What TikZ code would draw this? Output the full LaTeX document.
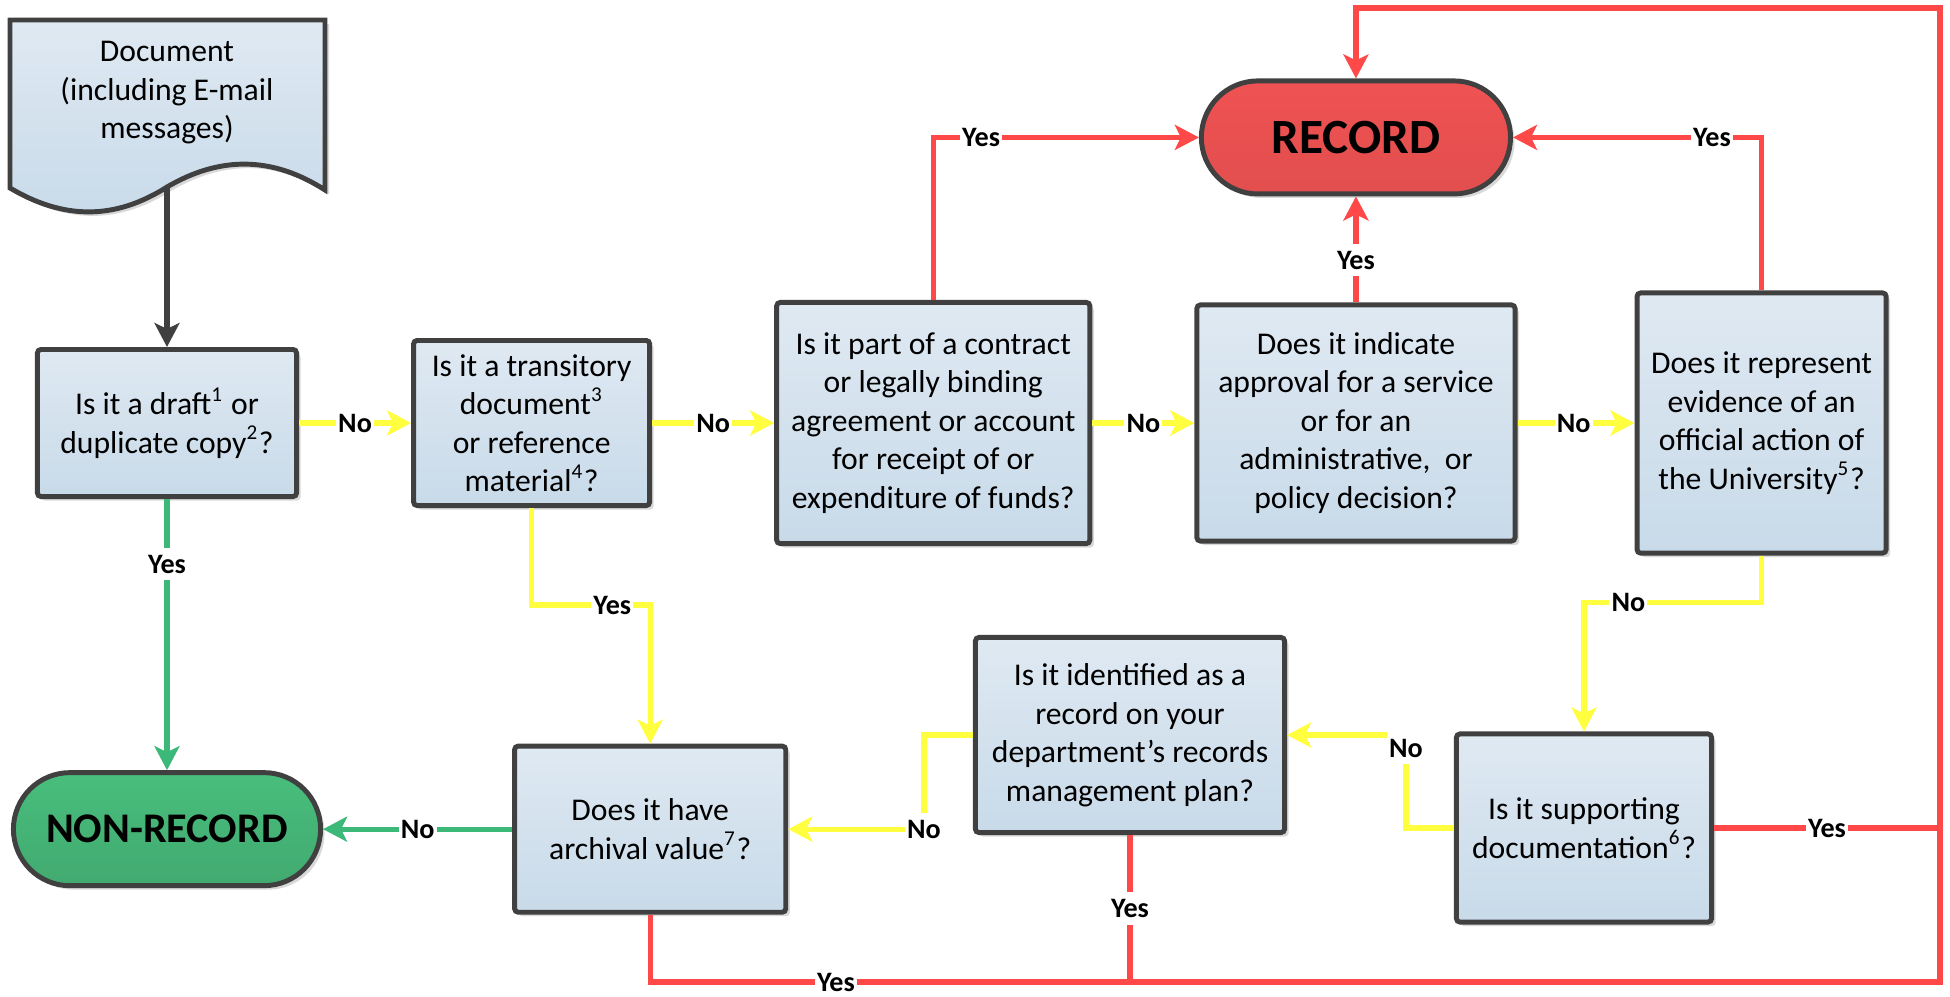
\documentclass[tikz,border=0pt]{standalone}
\usepackage{fontspec}
\setmainfont{Carlito}
\usetikzlibrary{arrows.meta,positioning,shadows}
\definecolor{boxtop}{RGB}{223,233,242}
\definecolor{boxbot}{RGB}{200,218,233}
\definecolor{edge}{RGB}{64,64,64}
\definecolor{recred}{RGB}{240,82,82}
\definecolor{recredbot}{RGB}{226,78,78}
\definecolor{nongreen}{RGB}{72,190,124}
\definecolor{nongreenbot}{RGB}{66,170,112}
\definecolor{linered}{RGB}{255,72,72}
\definecolor{linegreen}{RGB}{60,184,120}
\definecolor{lineyellow}{RGB}{255,255,64}

\begin{document}
\begin{tikzpicture}[
    x=0.01cm, y=-0.01cm,
    shadowed/.style={drop shadow={shadow xshift=0.04cm, shadow yshift=-0.04cm, fill=black!15, opacity=1}},
    qbox/.style={draw=edge, line width=1.4pt, rounded corners=1pt, top color=boxtop, bottom color=boxbot,
      align=center, inner sep=2pt, font=\fontsize{9}{10.95}\selectfont, shadowed},
    term/.style={draw=edge, line width=1.4pt, rounded corners=0.565cm, minimum height=1.13cm, shadowed},
    lbl/.style={fill=white, inner xsep=0.6pt, inner ysep=2pt, font=\fontsize{8}{9}\selectfont\bfseries},
    arr/.style={line width=1.5pt, -{Stealth[length=2.4mm, width=2.5mm, inset=0.6mm]}},
    yline/.style={arr, draw=lineyellow},
    rline/.style={arr, draw=linered},
    gline/.style={arr, draw=linegreen}
  ]
    \useasboundingbox (0,0) rectangle (1950,996);

    % document symbol
    \draw[draw=edge, line width=1.4pt, top color=boxtop, bottom color=boxbot, shadowed]
      (10,20) -- (325,20) -- (325,190)
      .. controls (272,156) and (220,156) .. (167,187)
      .. controls (115,220) and (64,220) .. (10,188) -- cycle;
    \node[align=center, font=\fontsize{9}{10.95}\selectfont] (doc) at (167,93) {Document\\(including E-mail\\messages)};
    \coordinate (docwave) at (167,187);

    % top row of questions
    \node[qbox, minimum width=2.59cm, minimum height=1.47cm] (draft) at (167,423)
      {Is it a draft\textsuperscript{1} or\\duplicate copy\textsuperscript{2}?};
    \node[qbox, minimum width=2.36cm, minimum height=1.65cm, right=1.12cm of draft] (trans)
      {Is it a transitory\\document\textsuperscript{3}\\or reference\\material\textsuperscript{4}?};
    \node[qbox, minimum width=3.13cm, minimum height=2.41cm, right=1.22cm of trans] (contract)
      {Is it part of a contract\\or legally binding\\agreement or account\\for receipt of or\\expenditure of funds?};
    \node[qbox, minimum width=3.18cm, minimum height=2.36cm, right=1.02cm of contract] (approval)
      {Does it indicate\\approval for a service\\or for an\\administrative,~ or\\policy decision?};
    \node[qbox, minimum width=2.49cm, minimum height=2.60cm, right=1.17cm of approval] (evidence)
      {Does it represent\\evidence of an\\official action of\\the University\textsuperscript{5}?};

    % terminals
    \node[term, minimum width=3.09cm, top color=recred, bottom color=recredbot,
      font=\fontsize{14}{16}\selectfont\bfseries, above=1.06cm of approval] (record) {RECORD};
    \node[term, minimum width=3.07cm, top color=nongreen, bottom color=nongreenbot,
      font=\fontsize{12}{14}\selectfont\bfseries, below=2.71cm of draft] (nonrec) {NON-RECORD};

    % bottom row of questions
    \node[qbox, minimum width=2.71cm, minimum height=1.66cm, right=1.89cm of nonrec] (archival)
      {Does it have\\archival value\textsuperscript{7}?};
    \node[qbox, minimum width=3.09cm, minimum height=1.95cm] (identified) at (1130,735)
      {Is it identified as a\\record on your\\department’s records\\management plan?};
    \node[qbox, minimum width=2.55cm, minimum height=1.88cm] (supporting) at (1584,828)
      {Is it supporting\\documentation\textsuperscript{6}?};

    % connectors
    \draw[arr, draw=edge] (docwave) -- (draft);
    \draw[yline] (draft) -- node[lbl]{No} (trans);
    \draw[yline] (trans) -- node[lbl]{No} (contract);
    \draw[yline] (contract) -- node[lbl]{No} (approval);
    \draw[yline] (approval) -- node[lbl, pos=0.48]{No} (evidence);
    \draw[gline] (draft) -- node[lbl, pos=0.24]{Yes} (nonrec);
    \draw[yline] (trans.south) -- ++(0,97) -| node[lbl, pos=0.34]{Yes} (archival.north);
    \draw[rline] (contract.north) |- node[lbl, pos=0.59]{Yes} (record.west);
    \draw[rline] (approval) -- node[lbl, pos=0.4]{Yes} (record);
    \draw[rline] (evidence.north) |- node[lbl, pos=0.6]{Yes} (record.east);
    \draw[yline] (evidence.south) -- ++(0,47) -| node[lbl, pos=0.375]{No} (supporting.north);
    \draw[yline] (supporting.west) -- ++(-48,0) |- node[lbl, pos=0.43]{No} (identified.east);
    \draw[yline] (identified.west) -- ++(-49,0) |- node[lbl]{No} (archival.east);
    \draw[gline] (archival) -- node[lbl]{No} (nonrec);

    % the long way round to RECORD
    \coordinate (rbot) at (1940,982);
    \coordinate (rtop) at (1940,8);
    \draw[rline] (archival.south) |- node[lbl, pos=0.572]{Yes} (rbot) -- (rtop) -| (record.north);
    \draw[rline, -] (identified.south) -- node[lbl]{Yes} (identified.south |- rbot);
    \draw[rline, -] (supporting.east) -- node[lbl]{Yes} (supporting.east -| rbot);
  \end{tikzpicture}
\end{document}
